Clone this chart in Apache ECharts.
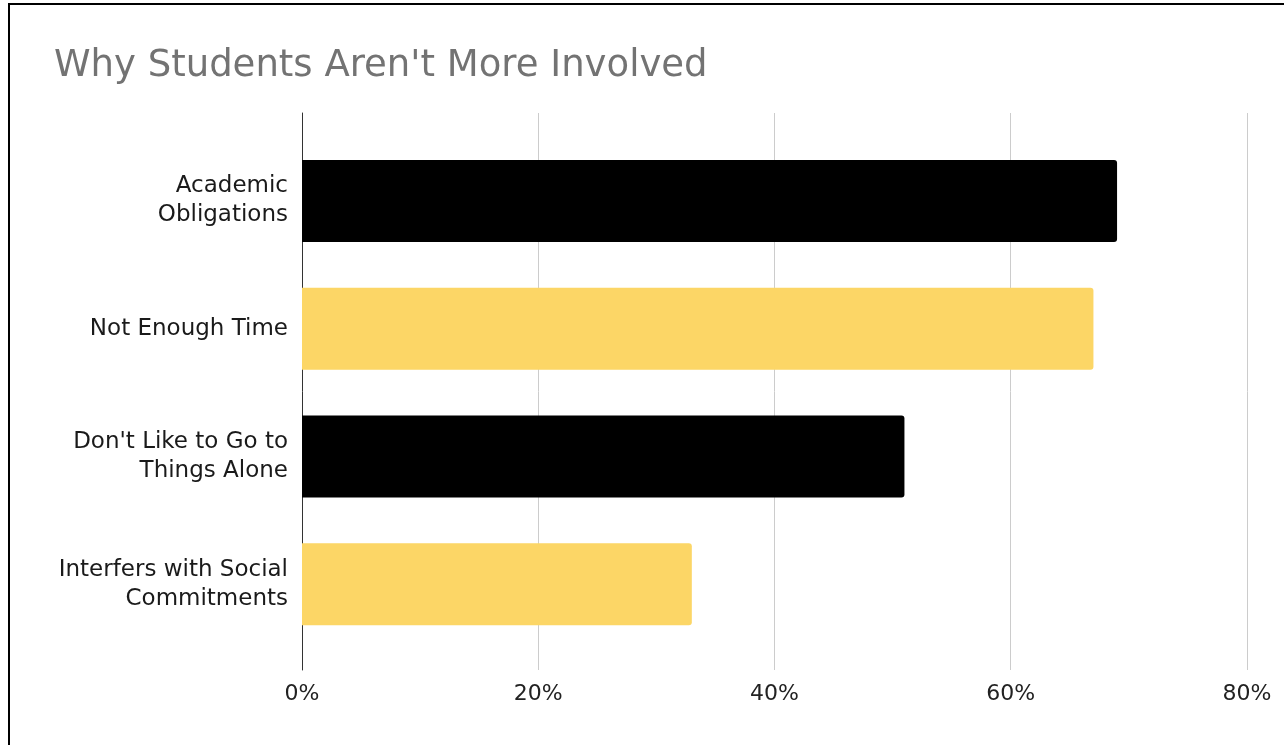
<!DOCTYPE html>
<html>
<head>
<meta charset="utf-8">
<title>Why Students Aren't More Involved</title>
<script src="https://cdn.jsdelivr.net/npm/echarts@6/dist/echarts.min.js"></script>
<style>
    html, body { margin: 0; padding: 0; background: #fff; overflow: hidden; }
    #frame { position: absolute; left: 8px; top: 3px; width: 1300px; height: 780px; border: 2px solid #000; box-sizing: border-box; }
    #why_chart { position: absolute; left: 0; top: 0; width: 1284px; height: 745px; }
</style>
</head>
<body>
<div id="frame"></div>
<div id="why_chart"></div>

<script type="text/javascript">
    // data
    var categories = ['Academic\nObligations', 'Not Enough Time', "Don't Like to Go to\nThings Alone", 'Interfers with Social\nCommitments'];
    var shares = [0.69, 0.67, 0.51, 0.33];
    var barColors = ['#000000', '#fcd666', '#000000', '#fcd666'];
    var tickValues = [0, 0.2, 0.4, 0.6, 0.8];

    var font = 'DejaVu Sans';

    var option = {
        animation: false,
        title: {
            text: "Why Students Aren't More Involved",
            left: 49,
            top: 43,
            textStyle: { fontFamily: font, fontSize: 37, fontWeight: 'normal', color: '#737373' }
        },
        grid: [
            // full height grid: gridlines, baseline and tick labels
            { left: 302, right: 37, top: 113, bottom: 75 },
            // inner grid holding the bars
            { left: 302, right: 37, top: 137, bottom: 97 }
        ],
        xAxis: [
            {
                type: 'value', gridIndex: 0,
                min: tickValues[0], max: tickValues[tickValues.length - 1], interval: 0.2,
                axisLine: { show: false },
                axisTick: { show: false },
                splitLine: { lineStyle: { color: '#cccccc', width: 1 } },
                axisLabel: {
                    margin: 13,
                    fontFamily: font, fontSize: 22, color: '#222',
                    formatter: function (v) { return Math.round(v * 100) + '%'; }
                }
            },
            {
                type: 'value', gridIndex: 1,
                min: tickValues[0], max: tickValues[tickValues.length - 1],
                show: false
            }
        ],
        yAxis: [
            {
                type: 'value', gridIndex: 0,
                axisLine: { show: true, lineStyle: { color: '#333', width: 1 } },
                axisTick: { show: false },
                axisLabel: { show: false },
                splitLine: { show: false }
            },
            {
                type: 'category', gridIndex: 1,
                data: categories,
                inverse: true,
                axisLine: { show: false },
                axisTick: { show: false },
                axisLabel: {
                    margin: 14,
                    align: 'right',
                    fontFamily: font, fontSize: 23, lineHeight: 29, color: '#1a1a1a'
                }
            }
        ],
        series: [
            {
                type: 'bar',
                xAxisIndex: 1,
                yAxisIndex: 1,
                barWidth: 82,
                z: 3,
                data: shares.map(function (v, i) {
                    return { value: v, itemStyle: { color: barColors[i], borderRadius: [0, 3, 3, 0] } };
                })
            }
        ]
    };

    var why_chart = echarts.init(document.getElementById('why_chart'));
    why_chart.setOption(option);
    window.onresize = function () {
        why_chart.resize();
    };
</script>
</body>
</html>
